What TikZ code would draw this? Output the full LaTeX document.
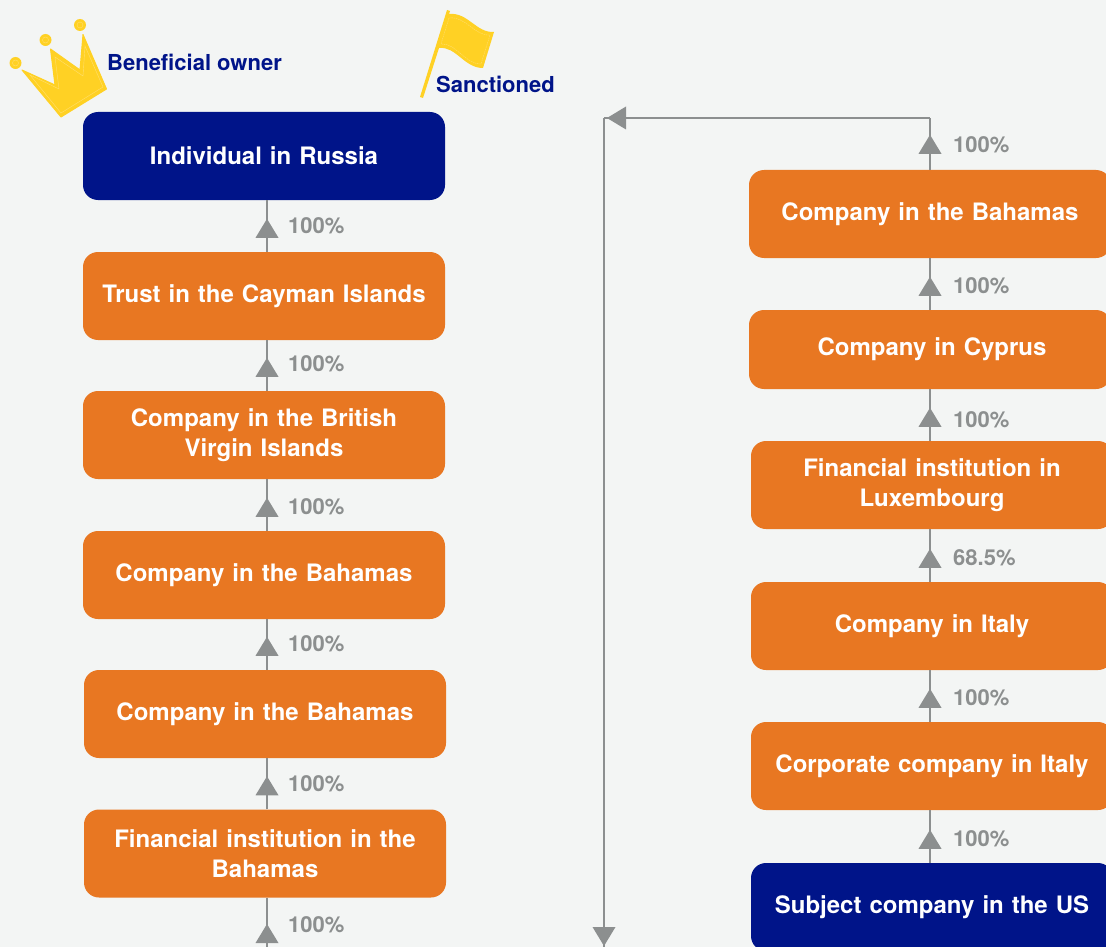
\documentclass[tikz,border=0pt]{standalone}
\usepackage{fontspec}
\setmainfont{TeX Gyre Heros}
\usetikzlibrary{arrows.meta,decorations.markings,positioning}
\definecolor{bgc}{HTML}{F3F5F4}
\definecolor{navyc}{HTML}{001489}
\definecolor{orangec}{HTML}{E87722}
\definecolor{greyc}{HTML}{8C8F8F}
\definecolor{goldc}{HTML}{FFD124}
\definecolor{stitchc}{HTML}{FFDF6E}
\tikzset{
  boxbase/.style={rounded corners=15pt,minimum width=362pt,minimum height=88pt,text width=340pt,align=center,
    inner sep=0pt,text=white,font=\bfseries\fontsize{24}{30}\selectfont},
  navybox/.style={boxbase,fill=navyc},
  orangebox/.style={boxbase,fill=orangec},
  link/.style={draw=greyc,line width=2.6pt},
  headtip/.style={decoration={markings,mark=at position #1 with {\arrow[line width=0pt]{Triangle[length=19pt,width=23pt,fill=greyc,color=greyc]}}},postaction=decorate},
  pct/.style={text=greyc,anchor=west,inner sep=0pt,font=\bfseries\fontsize{22}{26}\selectfont},
  legend/.style={text=navyc,anchor=west,inner sep=0pt,font=\bfseries\fontsize{22}{26}\selectfont},
}
\begin{document}
\begin{tikzpicture}[x=1pt,y=-1pt]
\fill[bgc] (0,0) rectangle (1106,947);
\useasboundingbox (0,0) rectangle (1106,947);
% crown
\fill[goldc,line join=round,draw=goldc,line width=1pt] (22,70) -- (55,85) -- (50.5,49) -- (80,70) -- (83,34.5) -- (106.5,89) -- (61,117) -- cycle;
\draw[stitchc,line width=.4pt] (30,75) -- (59,89) -- (55,57) -- (83,76) -- (85,46) -- (103,87) -- (61,113) -- cycle;
\fill[goldc] (15.5,63) circle (6pt) (45.5,40) circle (6pt) (80,25) circle (6pt);
\draw[stitchc,line width=.4pt] (15.5,63) circle (3pt) (45.5,40) circle (3pt) (80,25) circle (3pt);
% flag
\fill[goldc,line join=round] (420,97) -- (447,10) -- (450,11) -- (449,14)
  .. controls (468,12) and (476,33) .. (494,32)
  -- (483,68)
  .. controls (464,68) and (456,46) .. (439,48)
  -- (423,98) -- cycle;
\draw[stitchc,line width=.4pt,dashed,dash pattern=on 1.5pt off .8pt] (449,18)
  .. controls (466,16) and (474,36) .. (490,35)
  -- (481,64)
  .. controls (465,64) and (456,43) .. (441,44) -- cycle;
% legend
\node[legend] (lgA) at (107,62) {Beneficial owner};
\node[legend] (lgB) at (436,84) {Sanctioned};
% left column
\node[navybox]   (a1) at (264,156) {Individual in Russia};
\node[orangebox] (a2) at (264,296) {Trust in the Cayman Islands};
\node[orangebox] (a3) at (264,435) {Company in the British\\Virgin Islands};
\node[orangebox] (a4) at (264,575) {Company in the Bahamas};
\node[orangebox] (a5) at (265,714) {Company in the Bahamas};
\node[orangebox] (a6) at (265,853.5) {Financial institution in the\\Bahamas};
\coordinate (a7) at (267,947);
% right column
\node[orangebox] (b1) at (930,214) {Company in the Bahamas};
\node[orangebox,minimum height=79pt] (b2) at (930,349.5) {\hspace*{4pt}Company in Cyprus};
\node[orangebox] (b3) at (932,485) {Financial institution in\\Luxembourg};
\node[orangebox] (b4) at (932,626) {Company in Italy};
\node[orangebox] (b5) at (932,766) {Corporate company in Italy};
\node[navybox]   (b6) at (932,907) {Subject company in the US};
% connectors
\foreach \lo/\up in {a2/a1,a3/a2,a4/a3,a5/a4,a6/a5}{
  \path[link,headtip=33pt] (\lo.north -| 267,0) -- (\up.south -| 267,0);
}
\path[link,headtip=23pt] (a7) -- (a6.south -| 267,0);
\foreach \lo/\up in {b2/b1,b3/b2,b4/b3,b5/b4,b6/b5}{
  \path[link,headtip=33pt] (\lo.north -| 930,0) -- (\up.south -| 930,0);
}
\coordinate (loopTop) at (930,118);
\coordinate (loopCorner) at (604,118);
\coordinate (loopEnd) at (604,947);
\path[link,headtip=35pt] (b1.north -| 930,0) -- (loopTop);
\path[link,line join=miter,headtip=323pt] (loopTop) -- (loopCorner);
\path[link,headtip=828pt] (loopCorner) -- (loopEnd);
% labels
\node[pct] (p1) at (288,226) {100\%};
\node[pct] (p2) at (288,364) {100\%};
\node[pct] (p3) at (288,507) {100\%};
\node[pct] (p4) at (288,644) {100\%};
\node[pct] (p5) at (288,784) {100\%};
\node[pct] (p6) at (288,925) {100\%};
\node[pct] (q1) at (953,145) {100\%};
\node[pct] (q2) at (953,286) {100\%};
\node[pct] (q3) at (953,420) {100\%};
\node[pct] (q4) at (953,558) {68.5\%};
\node[pct] (q5) at (953,698) {100\%};
\node[pct] (q6) at (953,839) {100\%};
\end{tikzpicture}
\end{document}
